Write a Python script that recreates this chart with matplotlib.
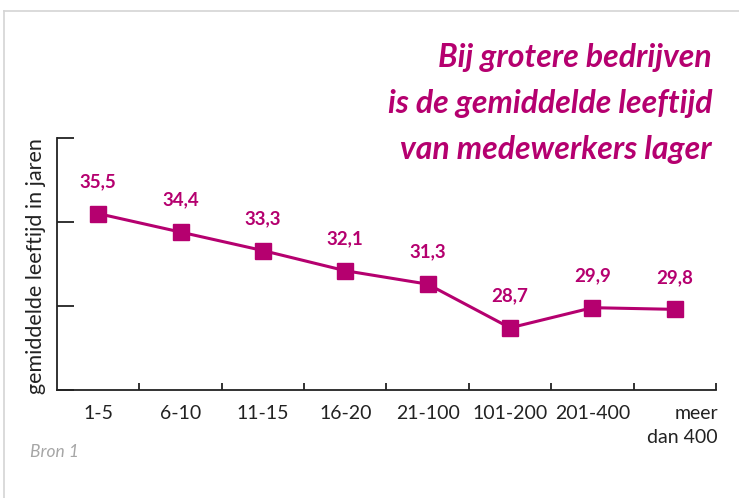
import matplotlib
matplotlib.use('Agg')
import matplotlib.pyplot as plt
import matplotlib.transforms as mtransforms
from matplotlib.lines import Line2D
import numpy as np

categories = ['1-5', '6-10', '11-15', '16-20', '21-100', '101-200', '201-400', 'meer\ndan 400']
leeftijd = [35.5, 34.4, 33.3, 32.1, 31.3, 28.7, 29.9, 29.8]
labels = ['35,5', '34,4', '33,3', '32,1', '31,3', '28,7', '29,9', '29,8']
title_lines = ['Bij grotere bedrijven', 'is de gemiddelde leeftijd', 'van medewerkers lager']

magenta = '#b5006f'
plt.rcParams['font.family'] = ['Lato', 'DejaVu Sans']

fig = plt.figure(figsize=(7.39, 4.98), dpi=100)
ax = fig.add_axes([57 / 739, (498 - 390) / 498, (716 - 57) / 739, (390 - 138) / 498])

x = np.arange(len(categories))
ax.plot(x, leeftijd, color=magenta, lw=2.2, marker='s', ms=12.2, mec=magenta, mfc=magenta)
for xi, v, t in zip(x, leeftijd, labels):
    ax.annotate(t, (xi, v), xytext=(0, 23), textcoords='offset points',
                ha='center', va='center', color=magenta, fontsize=13.5, fontweight='bold')

ax.set_xlim(-0.5, 7.5)
ax.set_ylim(25, 40)
ax.set_yticks([25, 30, 35, 40])
ax.set_yticklabels([])
ax.set_xticks(x)
ax.set_xticklabels(categories, fontsize=14, color='#222222', linespacing=1.45)
ax.set_xticks(np.arange(0.5, 8, 1), minor=True)
ax.tick_params(axis='x', which='major', length=0, pad=11)
ax.tick_params(axis='x', which='minor', direction='in', length=5, width=1.3, color='#222222')
ax.tick_params(axis='y', direction='in', length=12, width=1.3, color='#222222')
for s in ['top', 'right']:
    ax.spines[s].set_visible(False)
for s in ['left', 'bottom']:
    ax.spines[s].set_linewidth(1.3)
    ax.spines[s].set_color('#222222')

last = ax.get_xticklabels()[-1]
last.set_multialignment('right')
last.set_transform(last.get_transform() + mtransforms.ScaledTranslation(8 / 100, 0, fig.dpi_scale_trans))

ax.set_ylabel('gemiddelde leeftijd in jaren', fontsize=15.5, color='#222222')
ax.yaxis.set_label_coords(-11 / 659, 0.49)

for i, line in enumerate(title_lines):
    fig.text(712 / 739, 1 - (57 + 46.5 * i) / 498, line, ha='right', va='center',
             color=magenta, fontsize=23, fontweight='bold', style='italic')

fig.text(30 / 739, 1 - 452 / 498, 'Bron 1', ha='left', va='center',
         color='#a6a6a6', fontsize=12.5, style='italic')

fig.add_artist(Line2D([4 / 739, 1], [1 - 11 / 498, 1 - 11 / 498], color='#d4d4d4', lw=1.2))
fig.add_artist(Line2D([4 / 739, 4 / 739], [0, 1 - 11 / 498], color='#d4d4d4', lw=1.2))

fig.savefig('out.png', dpi=100)
